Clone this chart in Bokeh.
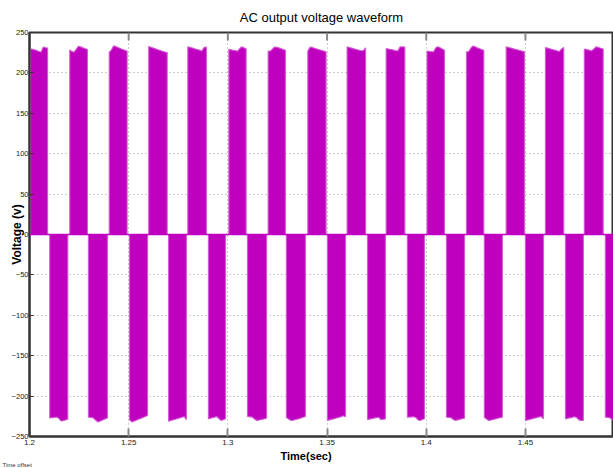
from bokeh.plotting import figure
from bokeh.models import Range1d, FixedTicker, Span, Title
from bokeh.embed import file_html
from bokeh.resources import INLINE

TITLE = "AC output voltage waveform"
X_LABEL = "Time(sec)"
Y_LABEL = "Voltage (v)"
OFFSET_NOTE = "Time offset"

x_ticks = [1.2, 1.25, 1.3, 1.35, 1.4, 1.45]
x_tick_labels = ["1.2", "1.25", "1.3", "1.35", "1.4", "1.45"]
y_ticks = [250, 200, 150, 100, 50, 0, -50, -100, -150, -200, -250]

# positive half-cycle pulses (start/end time, top envelope samples)
pos_start = [1.2005, 1.2203, 1.2402, 1.2601, 1.2798, 1.3005, 1.3203, 1.3403,
             1.3601, 1.3798, 1.4004, 1.4203, 1.4403, 1.4601, 1.4797]
pos_end = [1.2091, 1.2292, 1.2492, 1.2694, 1.2892, 1.3092, 1.3290, 1.3495,
           1.3694, 1.3892, 1.4092, 1.4290, 1.4495, 1.4693, 1.4892]
pos_top = [
    [229.8, 229.2, 228.5, 227.6, 226.5, 225.8, 232.0, 231.2, 230.6],
    [228.5, 226.5, 225.8, 229.5, 233.0, 232.2, 231.0, 230.0, 229.0],
    [225.6, 228.5, 233.5, 232.5, 231.3, 230.2, 229.0, 228.0, 226.9],
    [232.7, 231.7, 230.7, 229.7, 228.7, 227.7, 226.7, 225.9, 225.3],
    [232.3, 231.5, 230.7, 229.8, 229.0, 228.2, 227.0, 231.5, 232.0],
    [229.2, 228.6, 228.0, 227.5, 226.9, 230.0, 232.3, 231.0, 229.8],
    [226.9, 227.0, 229.5, 232.0, 231.8, 230.9, 230.0, 229.0, 228.1],
    [226.9, 232.0, 231.5, 230.5, 229.6, 228.7, 227.8, 227.0, 226.1],
    [232.3, 231.4, 230.6, 229.8, 229.0, 228.2, 227.4, 227.5, 231.0],
    [230.2, 229.6, 229.0, 228.4, 227.5, 227.2, 232.2, 232.3, 232.0],
    [226.9, 226.6, 226.3, 226.1, 231.0, 232.3, 231.0, 229.5, 228.1],
    [226.1, 226.3, 230.5, 233.3, 232.3, 231.0, 230.0, 229.0, 228.1],
    [232.3, 231.5, 230.8, 230.0, 229.2, 228.5, 227.7, 226.9, 226.1],
    [231.3, 230.6, 229.8, 229.0, 228.2, 227.4, 226.4, 229.5, 231.5],
    [229.6, 228.9, 228.2, 227.2, 229.5, 232.3, 231.5, 230.5, 229.6],
]

# negative half-cycle pulses (start/end time, bottom envelope samples)
neg_start = [1.2102, 1.2297, 1.2504, 1.2701, 1.2902, 1.3099, 1.3295, 1.3502,
             1.3704, 1.3905, 1.4102, 1.4293, 1.4500, 1.4702, 1.4903]
neg_end = [1.2193, 1.2393, 1.2595, 1.2791, 1.2988, 1.3195, 1.3391, 1.3593,
           1.3794, 1.3991, 1.4193, 1.4384, 1.4591, 1.4792, 1.4993]
neg_bottom = [
    [-227.0, -226.7, -226.4, -226.0, -227.5, -230.8, -230.5, -229.5, -228.6],
    [-226.1, -226.4, -226.9, -229.5, -232.0, -230.8, -229.5, -228.2, -226.9],
    [-229.0, -232.0, -231.0, -229.9, -228.7, -227.6, -226.4, -225.2, -224.0],
    [-231.0, -230.2, -229.4, -228.6, -227.8, -227.0, -226.2, -225.4, -229.0],
    [-228.1, -227.4, -226.7, -226.0, -225.4, -228.0, -230.2, -229.2, -228.1],
    [-225.2, -225.6, -226.0, -228.5, -230.2, -229.6, -228.9, -228.1, -227.3],
    [-226.5, -228.5, -230.2, -229.7, -229.0, -228.1, -227.2, -226.2, -225.2],
    [-230.2, -229.4, -228.6, -227.9, -227.1, -226.3, -225.5, -224.4, -225.5],
    [-229.0, -228.4, -227.8, -227.2, -226.6, -226.2, -229.0, -228.6, -228.1],
    [-226.1, -226.0, -225.8, -225.6, -226.5, -229.5, -230.2, -229.0, -228.1],
    [-226.1, -226.4, -226.8, -229.0, -230.2, -229.5, -228.7, -228.0, -227.3],
    [-226.1, -228.5, -230.2, -229.6, -228.9, -228.1, -227.4, -226.7, -226.1],
    [-230.2, -229.5, -228.8, -228.0, -227.3, -226.6, -225.8, -225.4, -228.1],
    [-228.1, -227.5, -226.9, -226.3, -225.6, -226.5, -229.5, -230.2, -230.2],
    [-226.1, -226.4, -226.8, -229.0, -230.2, -229.5, -228.7, -228.0, -227.3],
]

MAGENTA = "#bf00bf"
FONT = "Liberation Sans"


def pulse_shapes(starts, ends, profiles):
    xs, ys = [], []
    for s, e, prof in zip(starts, ends, profiles):
        n = len(prof)
        ts = [s + (e - s) * i / (n - 1) for i in range(n)]
        xs.append([s] + ts + [e])
        ys.append([0.0] + list(prof) + [0.0])
    return xs, ys


p = figure(
    width=613, height=468,
    x_range=Range1d(1.2, 1.4944), y_range=Range1d(-250, 250),
    output_backend="svg", toolbar_location=None,
    min_border_left=29, min_border_right=0, min_border_top=32, min_border_bottom=32,
    background_fill_color="white", border_fill_color="white",
)
p.outline_line_color = "#333333"
p.outline_line_width = 2

p.title.text = TITLE
p.title.align = "center"
p.title.text_font = FONT
p.title.text_font_size = "13px"
p.title.text_font_style = "normal"
p.title.text_color = "black"
p.title.standoff = 15

# grid
for g in (p.xgrid, p.ygrid):
    g.grid_line_color = "#9a9a9a"
    g.grid_line_dash = "1 3"
    g.grid_line_width = 1
p.xgrid.ticker = FixedTicker(ticks=x_ticks)
p.ygrid.ticker = FixedTicker(ticks=y_ticks)

# bottom axis
xa = p.xaxis[0]
xa.ticker = FixedTicker(ticks=x_ticks)
xa.major_label_overrides = {t: l for t, l in zip(x_ticks, x_tick_labels)}
xa.major_label_text_font = FONT
xa.major_label_text_font_size = "8px"
xa.major_label_text_color = "#222222"
xa.major_label_standoff = 3
xa.major_tick_in = 8
xa.major_tick_out = 0
xa.major_tick_line_color = "#8a8a8a"
xa.major_tick_line_width = 2
xa.minor_tick_line_color = None
xa.axis_line_color = "#333333"
xa.axis_line_width = 2

# left axis
ya = p.yaxis[0]
ya.ticker = FixedTicker(ticks=y_ticks)
ya.major_label_text_font = FONT
ya.major_label_text_font_size = "7.5px"
ya.major_label_text_color = "#222222"
ya.major_label_standoff = 1
ya.major_tick_in = 4
ya.major_tick_out = 0
ya.major_tick_line_color = "#333333"
ya.minor_tick_line_color = None
ya.axis_line_color = "#333333"
ya.axis_line_width = 2
ya.axis_label = Y_LABEL
ya.axis_label_text_font = FONT
ya.axis_label_text_font_size = "12px"
ya.axis_label_text_font_style = "bold"
ya.axis_label_text_color = "black"
ya.axis_label_standoff = -15

# gray inward ticks along the top border
p.segment(x0=x_ticks, y0=[p.y_range.end] * len(x_ticks), x1=x_ticks,
          y1=[p.y_range.end - 10] * len(x_ticks), line_color="#8a8a8a", line_width=2)

# x-axis caption and time-offset note below the axis
p.add_layout(Title(text=X_LABEL, align="left", offset=251, standoff=0,
                   text_font=FONT, text_font_size="11px", text_font_style="bold",
                   text_color="black"), "below")
p.add_layout(Title(text=OFFSET_NOTE, align="left", offset=-27, standoff=-4,
                   text_font=FONT, text_font_size="6px", text_font_style="normal",
                   text_color="#333333"), "below")

# waveform
px, py = pulse_shapes(pos_start, pos_end, pos_top)
nx, ny = pulse_shapes(neg_start, neg_end, neg_bottom)
p.patches(px + nx, py + ny, fill_color=MAGENTA, line_color="#d055d0",
          line_width=1.2, line_alpha=0.9)
p.add_layout(Span(location=0, dimension="width", line_color=MAGENTA, line_width=1.5))

open("out.html", "w").write(file_html(p, INLINE))
